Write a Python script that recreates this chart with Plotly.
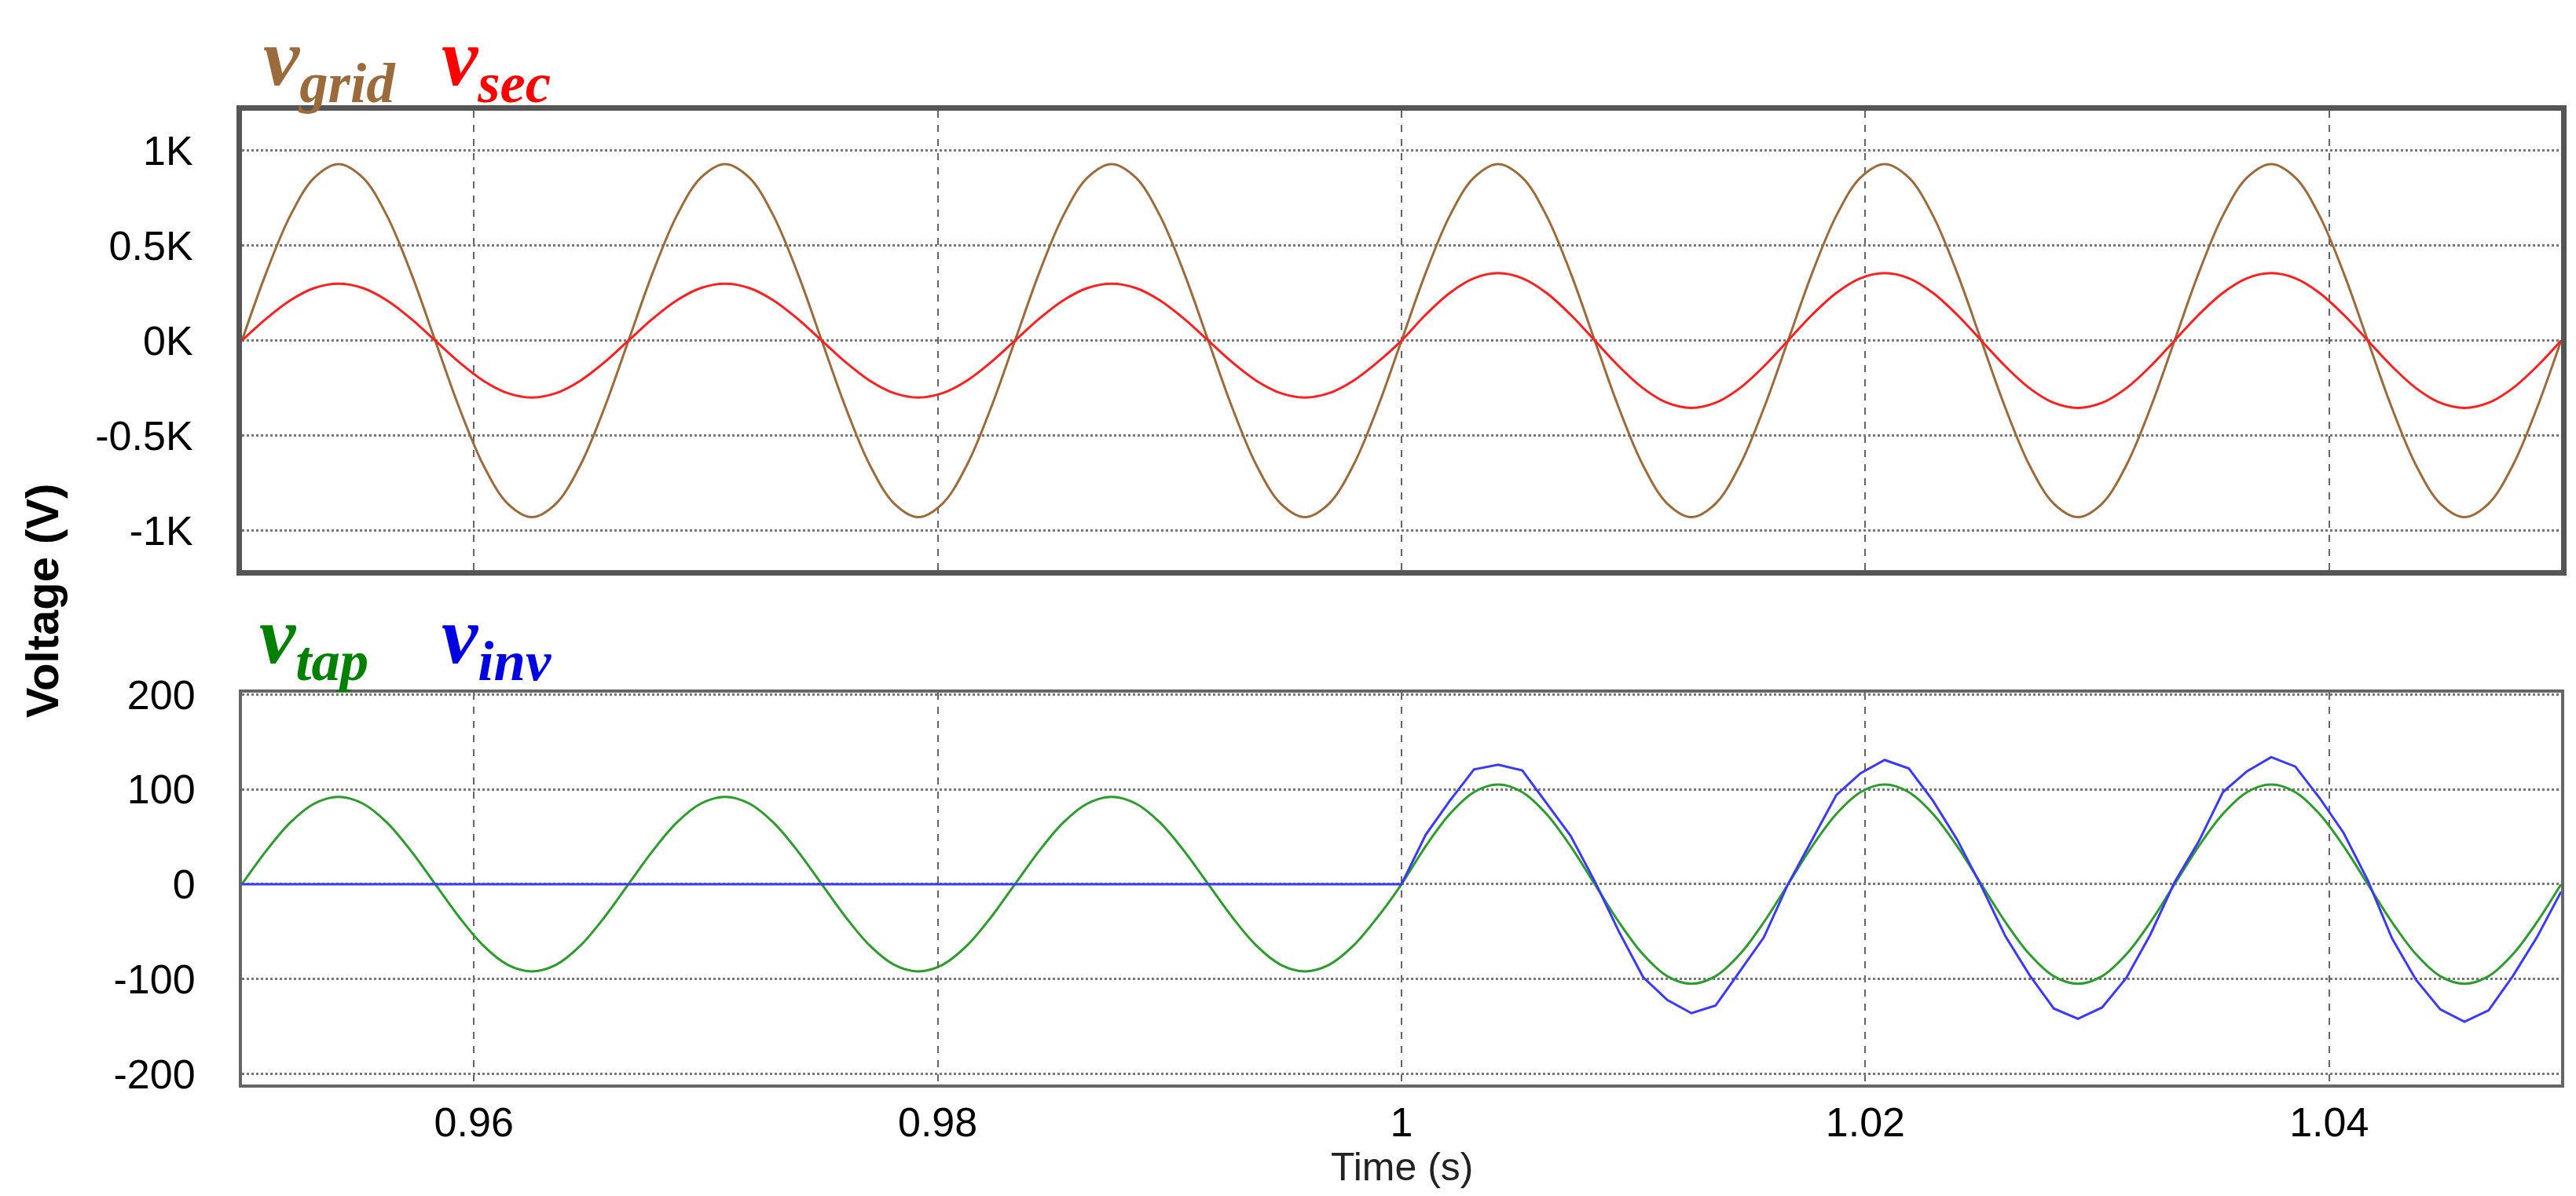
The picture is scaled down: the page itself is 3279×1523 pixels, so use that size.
import numpy as np
import plotly.graph_objects as go

T = 1/60
t16 = [0.95 + i*T/16 for i in range(97)]

grid_cycle = [0, 356, 658, 859, 930, 859, 658, 356, 0, -356, -658, -859, -930, -859, -658, -356]
sec_cycle_a = [0, 115, 212, 277, 300, 277, 212, 115, 0, -115, -212, -277, -300, -277, -212, -115]
sec_cycle_b = [0, 136, 251, 328, 355, 328, 251, 136, 0, -136, -251, -328, -355, -328, -251, -136]
tap_cycle_a = [0, 35, 65, 85, 92, 85, 65, 35, 0, -35, -65, -85, -92, -85, -65, -35]
tap_cycle_b = [0, 40, 74, 97, 105, 97, 74, 40, 0, -40, -74, -97, -105, -97, -74, -40]

vgrid = grid_cycle * 6 + [0]
vsec = sec_cycle_a * 3 + sec_cycle_b * 3 + [0]
vtap = tap_cycle_a * 3 + tap_cycle_b * 3 + [0]

t_inv = [0.95] + [1.0 + i*T/16 for i in range(49)]
vinv = [0, 0,
        52, 88, 121, 126, 120, 86, 51, 3,
        -50, -98, -122, -136, -128, -92, -56, 0,
        47, 94, 117, 131, 122, 88, 47, -2,
        -55, -96, -131, -142, -130, -99, -53, 2,
        45, 97, 119, 134, 124, 91, 54, 4,
        -57, -101, -132, -145, -133, -97, -56, -8]

xticks = [0.96, 0.98, 1.0, 1.02, 1.04]
xticklabels = ["0.96", "0.98", "1", "1.02", "1.04"]
ytop = [-1000, -500, 0, 500, 1000]
ytop_labels = ["-1K", "-0.5K", "0K", "0.5K", "1K"]
ybot = [-200, -100, 0, 100, 200]
ybot_labels = ["-200", "-100", "0", "100", "200"]

W, H = 3279, 1523
fig = go.Figure()
fig.add_trace(go.Scatter(x=t16, y=vgrid, mode="lines", line=dict(color="#9C6B3C", width=3, shape="spline"), xaxis="x", yaxis="y"))
fig.add_trace(go.Scatter(x=t16, y=vsec, mode="lines", line=dict(color="#FF2020", width=3, shape="spline"), xaxis="x", yaxis="y"))
fig.add_trace(go.Scatter(x=t16, y=vtap, mode="lines", line=dict(color="#2E9B2E", width=3, shape="spline"), xaxis="x2", yaxis="y2"))
fig.add_trace(go.Scatter(x=t_inv, y=vinv, mode="lines", line=dict(color="#3A3AFF", width=3), xaxis="x2", yaxis="y2"))

xd = [300/W, 3252/W]
tf = dict(family="Liberation Sans, Arial", size=52, color="black")
common_x = dict(range=[0.95, 1.05], domain=xd, tickvals=xticks, ticktext=xticklabels,
                showgrid=True, gridcolor="#666", griddash="dash", gridwidth=2,
                zeroline=False, ticks="", tickfont=tf, ticklabelstandoff=0)
common_y = dict(showgrid=True, gridcolor="#777", griddash="dot", gridwidth=3,
                zeroline=False, ticks="", tickfont=tf, ticklabelstandoff=45)

fig.update_layout(
    width=W, height=H, margin=dict(l=0, r=0, t=0, b=0),
    paper_bgcolor="white", plot_bgcolor="white", showlegend=False,
    xaxis=dict(**common_x, anchor="y", showticklabels=False,
               showline=True, mirror=True, linecolor="#555", linewidth=7),
    yaxis=dict(**common_y, domain=[1-712/H, 1-110/H], range=[-1211, 1211],
               tickvals=ytop, ticktext=ytop_labels,
               showline=True, mirror=True, linecolor="#555", linewidth=7),
    xaxis2=dict(**common_x, anchor="y2",
                showline=True, mirror=True, linecolor="#666", linewidth=4),
    yaxis2=dict(**common_y, domain=[1-1385/H, 1-872/H], range=[-211, 202],
                tickvals=ybot, ticktext=ybot_labels,
                showline=True, mirror=True, linecolor="#666", linewidth=4),
)

lf = "Liberation Serif, Times New Roman"
def leg(text, color, x, y):
    fig.add_annotation(text="<b><i>" + text + "</i></b>", x=x/W, y=1-y/H, xref="paper", yref="paper",
                       xanchor="left", yanchor="middle", showarrow=False,
                       font=dict(family=lf, size=104, color=color))
leg("v<sub>grid</sub>", "#9C6B3C", 325, 48)
leg("v<sub>sec</sub>", "#FF0000", 552, 48)
leg("v<sub>tap</sub>", "#008000", 320, 805)
leg("v<sub>inv</sub>", "#0000E0", 552, 805)

fig.add_annotation(text="<b>Voltage (V)</b>", x=45/W, y=1-752/H, xref="paper", yref="paper",
                   textangle=-90, showarrow=False, xanchor="center", yanchor="middle",
                   font=dict(family="Liberation Sans, Arial", size=58, color="black"))
fig.add_annotation(text="Time (s)", x=1776/W, y=1-1493/H, xref="paper", yref="paper",
                   showarrow=False, xanchor="center", yanchor="middle",
                   font=dict(family="Liberation Sans, Arial", size=50, color="#222"))

fig.write_html("out.html")
